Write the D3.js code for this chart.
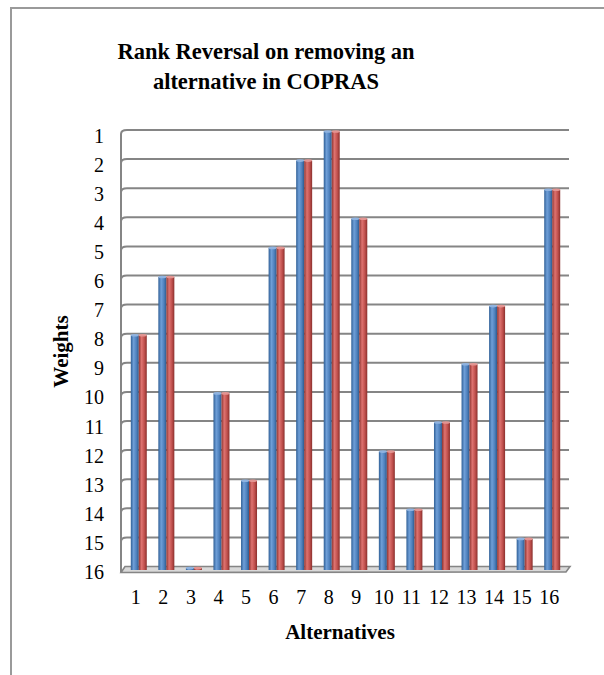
<!DOCTYPE html>
<html>
<head>
<meta charset="utf-8">
<script src="https://cdn.jsdelivr.net/npm/d3@7"></script>
<style>
  html, body { margin: 0; padding: 0; background: #ffffff; }
  svg { display: block; }
</style>
</head>
<body>
<svg id="chart" width="604" height="675"></svg>
<script>
// Alternatives on the x axis and their ranks (1 = best) for the two runs
const alternatives = ["1","2","3","4","5","6","7","8","9","10","11","12","13","14","15","16"];
const rankFull     = [8, 6, 16, 10, 13, 5, 2, 1, 4, 12, 14, 11, 9, 7, 15, 3];
const rankRemoved  = [8, 6, 16, 10, 13, 5, 2, 1, 4, 12, 14, 11, 9, 7, 15, 3];
const seriesNames  = ["rankFull", "rankRemoved"];
const rankTicks    = [1,2,3,4,5,6,7,8,9,10,11,12,13,14,15,16];

const titleLines = ["Rank Reversal on removing an", "alternative in COPRAS"];
const xTitle = "Alternatives";
const yTitle = "Weights";

const svg = d3.select("#chart");
const serif = "'Liberation Serif','Times New Roman',Times,serif";

// Outer chart frame (runs past the right and bottom edges)
svg.append("path")
  .attr("d", "M11,680 L11,8 L610,8")
  .attr("fill", "none")
  .attr("stroke", "#9a9a9a")
  .attr("stroke-width", 2);

// Scales: rank axis is reversed, rank 1 at the top
const x = d3.scaleBand().domain(alternatives).range([125, 566]).paddingInner(0.42).paddingOuter(0.21);
const xs = d3.scaleBand().domain(seriesNames).range([0, x.bandwidth()]);
const y = d3.scaleLinear().domain([1, 16]).range([130, 566.5]);

const wallX = 121, backX = 125, rightX = 569, depth = 4;

// Gridlines on the back wall with the short step on the side wall
const grid = svg.append("g").attr("fill", "none").attr("stroke", "#858585").attr("stroke-width", 2);
rankTicks.slice(0, -1).forEach(r => {
  const gy = y(r);
  grid.append("path").attr("d", `M${wallX},${gy + depth} Q${wallX},${gy} ${backX + 2},${gy} L${rightX},${gy}`);
});
// Side wall
grid.append("line").attr("x1", wallX).attr("x2", wallX).attr("y1", y(1) + depth).attr("y2", y(16) + 6);

// Floor slab
const fy = y(16);
svg.append("path")
  .attr("d", `M${wallX},${fy + 6} L${wallX + depth},${fy} L${rightX + 1},${fy} L${rightX - 3},${fy + 5.5} Z`)
  .attr("fill", "#d9d9d9")
  .attr("stroke", "#858585")
  .attr("stroke-width", 1.6);

// Cylinder shading for each series
const defs = svg.append("defs");
const shades = {
  rankFull:    ["#2f5f96", "#6f9fd8", "#4f81bd", "#2d5a8e"],
  rankRemoved: ["#8e3431", "#de7370", "#c0504d", "#8a302d"]
};
seriesNames.forEach(s => {
  const g = defs.append("linearGradient").attr("id", "grad-" + s).attr("x1", "0").attr("x2", "1").attr("y1", "0").attr("y2", "0");
  g.append("stop").attr("offset", "0%").attr("stop-color", shades[s][0]);
  g.append("stop").attr("offset", "35%").attr("stop-color", shades[s][1]);
  g.append("stop").attr("offset", "70%").attr("stop-color", shades[s][2]);
  g.append("stop").attr("offset", "100%").attr("stop-color", shades[s][3]);
});

const rows = alternatives.map((a, i) => ({ alt: a, rankFull: rankFull[i], rankRemoved: rankRemoved[i] }));
const barTop = v => y(v) + 1.5;
const barBase = y(16) + 3.5;

const groups = svg.append("g").selectAll("g")
  .data(rows).join("g")
  .attr("transform", d => `translate(${x(d.alt)},0)`);

seriesNames.forEach(s => {
  groups.append("rect")
    .attr("x", xs(s))
    .attr("width", xs.bandwidth())
    .attr("y", d => barTop(d[s]))
    .attr("height", d => Math.max(0, barBase - barTop(d[s])))
    .attr("fill", `url(#grad-${s})`);
  // rounded cap on top of each column
  groups.append("ellipse")
    .attr("cx", xs(s) + xs.bandwidth() / 2)
    .attr("cy", d => barTop(d[s]))
    .attr("rx", xs.bandwidth() / 2)
    .attr("ry", 1.3)
    .attr("fill", s === "rankFull" ? "#8fb3e0" : "#e39592");
});

// Rank labels
svg.append("g").selectAll("text")
  .data(rankTicks).join("text")
  .attr("x", 104)
  .attr("y", d => y(d) + 5.5)
  .attr("dy", "0.35em")
  .attr("text-anchor", "end")
  .attr("font-family", serif)
  .attr("font-size", 20)
  .attr("fill", "#000")
  .text(d => d);

// Alternative labels
svg.append("g").selectAll("text")
  .data(alternatives).join("text")
  .attr("x", d => x(d) + x.bandwidth() / 2 - 3)
  .attr("y", 603.5)
  .attr("text-anchor", "middle")
  .attr("font-family", serif)
  .attr("font-size", 20)
  .attr("fill", "#000")
  .text(d => d);

// Title
svg.append("g").selectAll("text")
  .data(titleLines).join("text")
  .attr("x", 266)
  .attr("y", (d, i) => 59 + i * 30)
  .attr("text-anchor", "middle")
  .attr("font-family", serif)
  .attr("font-weight", "bold")
  .attr("font-size", 22.5)
  .attr("fill", "#000")
  .text(d => d);

// Axis titles
svg.append("text")
  .attr("x", 340).attr("y", 639)
  .attr("text-anchor", "middle")
  .attr("font-family", serif).attr("font-weight", "bold").attr("font-size", 21)
  .text(xTitle);

svg.append("text")
  .attr("transform", "translate(67.5,351.5) rotate(-90)")
  .attr("text-anchor", "middle")
  .attr("font-family", serif).attr("font-weight", "bold").attr("font-size", 21)
  .text(yTitle);
</script>
</body>
</html>
